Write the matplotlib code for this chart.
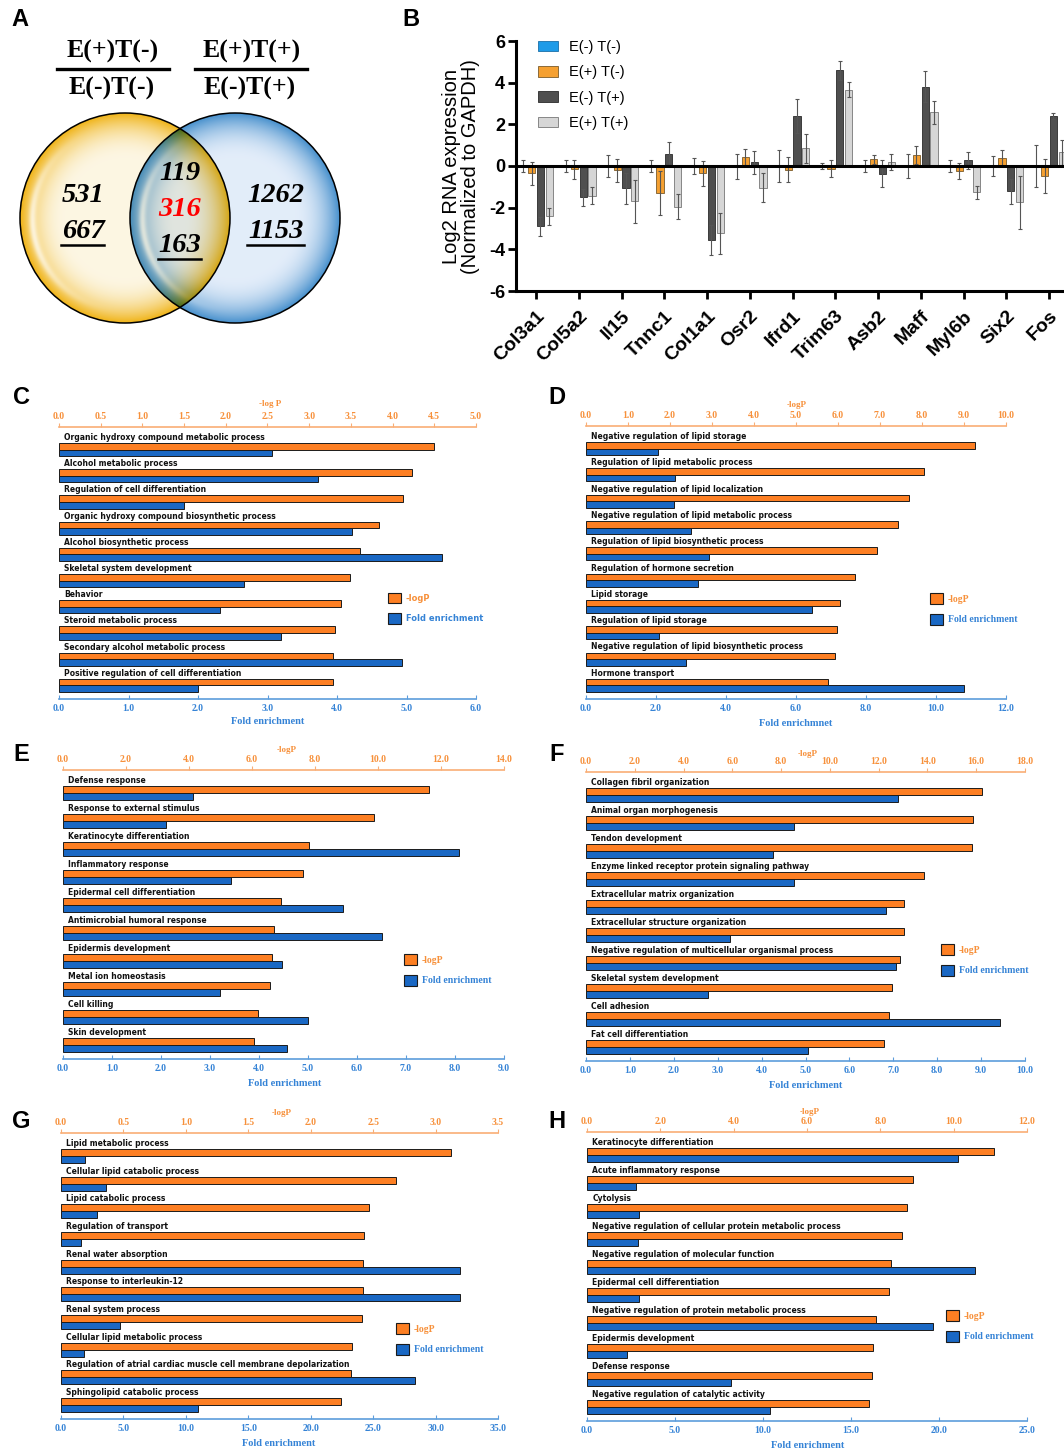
import numpy as np
import matplotlib
matplotlib.use('Agg')
import matplotlib.pyplot as plt
from matplotlib.patches import Circle, Patch
from matplotlib.transforms import blended_transform_factory

# ------------------------------------------------------------------ data
venn_left_header = ('E(+)T(-)', 'E(-)T(-)')
venn_right_header = ('E(+)T(+)', 'E(-)T(+)')
venn_left_up, venn_left_down = '531', '667'
venn_mid_up, venn_mid_common, venn_mid_down = '119', '316', '163'
venn_right_up, venn_right_down = '1262', '1153'

genes = ['Col3a1', 'Col5a2', 'Il15', 'Tnnc1', 'Col1a1', 'Osr2', 'Ifrd1',
         'Trim63', 'Asb2', 'Maff', 'Myl6b', 'Six2', 'Fos']
group_names = ['E(-) T(-)', 'E(+) T(-)', 'E(-) T(+)', 'E(+) T(+)']
e_neg_t_neg = [0, 0, 0, 0, 0, 0, 0, 0, 0, 0, 0, 0, 0]
e_neg_t_neg_err = [0.3, 0.3, 0.55, 0.3, 0.37, 0.6, 0.75, 0.15, 0.28, 0.58, 0.27, 0.47, 1.0]
e_pos_t_neg = [-0.35, -0.15, -0.2, -1.28, -0.35, 0.42, -0.18, -0.13, 0.32, 0.53, -0.22, 0.37, -0.48]
e_pos_t_neg_err = [0.55, 0.45, 0.55, 1.05, 0.6, 0.38, 0.6, 0.4, 0.2, 0.45, 0.38, 0.38, 0.83]
e_neg_t_pos = [-2.9, -1.5, -1.07, 0.6, -3.55, 0.18, 2.4, 4.6, -0.38, 3.8, 0.28, -1.22, 2.4]
e_neg_t_pos_err = [0.45, 0.4, 0.75, 0.55, 0.7, 0.55, 0.8, 0.45, 0.65, 0.75, 0.4, 0.62, 0.15]
e_pos_t_pos = [-2.42, -1.42, -1.7, -1.95, -3.22, -1.05, 0.85, 3.67, 0.19, 2.57, -1.27, -1.75, 0.65]
e_pos_t_pos_err = [0.4, 0.4, 1.05, 0.6, 0.98, 0.7, 0.7, 0.37, 0.37, 0.55, 0.33, 1.27, 0.62]

c_terms = ['Organic hydroxy compound metabolic process', 'Alcohol metabolic process',
           'Regulation of cell differentiation', 'Organic hydroxy compound biosynthetic process',
           'Alcohol biosynthetic process', 'Skeletal system development', 'Behavior',
           'Steroid metabolic process', 'Secondary alcohol metabolic process',
           'Positive regulation of cell differentiation']
c_logp = [4.50, 4.23, 4.13, 3.84, 3.61, 3.49, 3.38, 3.31, 3.29, 3.29]
c_fold = [3.07, 3.72, 1.80, 4.22, 5.51, 2.66, 2.32, 3.20, 4.94, 2.00]

d_terms = ['Negative regulation of lipid storage', 'Regulation of lipid metabolic process',
           'Negative regulation of lipid localization', 'Negative regulation of lipid metabolic process',
           'Regulation of lipid biosynthetic process', 'Regulation of hormone secretion',
           'Lipid storage', 'Regulation of lipid storage',
           'Negative regulation of lipid biosynthetic process', 'Hormone transport']
d_logp = [9.26, 8.04, 7.69, 7.43, 6.93, 6.41, 6.04, 5.98, 5.93, 5.76]
d_fold = [2.05, 2.55, 2.52, 3.00, 3.51, 3.19, 6.45, 2.09, 2.85, 10.80]

e_terms = ['Defense response', 'Response to external stimulus', 'Keratinocyte differentiation',
           'Inflammatory response', 'Epidermal cell differentiation',
           'Antimicrobial humoral response', 'Epidermis development', 'Metal ion homeostasis',
           'Cell killing', 'Skin development']
e_logp = [11.62, 9.88, 7.81, 7.63, 6.93, 6.69, 6.63, 6.57, 6.19, 6.07]
e_fold = [2.65, 2.10, 8.09, 3.42, 5.72, 6.51, 4.46, 3.20, 4.99, 4.58]

f_terms = ['Collagen fibril organization', 'Animal organ morphogenesis', 'Tendon development',
           'Enzyme linked receptor protein signaling pathway', 'Extracellular matrix organization',
           'Extracellular structure organization',
           'Negative regulation of multicellular organismal process',
           'Skeletal system development', 'Cell adhesion', 'Fat cell differentiation']
f_logp = [16.25, 15.88, 15.81, 13.85, 13.05, 13.05, 12.86, 12.56, 12.42, 12.22]
f_fold = [7.11, 4.73, 4.26, 4.74, 6.83, 3.29, 7.06, 2.77, 9.44, 5.06]

g_terms = ['Lipid metabolic process', 'Cellular lipid catabolic process', 'Lipid catabolic process',
           'Regulation of transport', 'Renal water absorption', 'Response to interleukin-12',
           'Renal system process', 'Cellular lipid metabolic process',
           'Regulation of atrial cardiac muscle cell membrane depolarization',
           'Sphingolipid catabolic process']
g_logp = [3.12, 2.68, 2.47, 2.43, 2.42, 2.42, 2.41, 2.33, 2.32, 2.24]
g_fold = [1.91, 3.57, 2.85, 1.61, 31.96, 31.96, 4.70, 1.85, 28.39, 11.01]

h_terms = ['Keratinocyte differentiation', 'Acute inflammatory response', 'Cytolysis',
           'Negative regulation of cellular protein metabolic process',
           'Negative regulation of molecular function', 'Epidermal cell differentiation',
           'Negative regulation of protein metabolic process', 'Epidermis development',
           'Defense response', 'Negative regulation of catalytic activity']
h_logp = [11.09, 8.90, 8.73, 8.58, 8.30, 8.23, 7.88, 7.79, 7.78, 7.70]
h_fold = [21.06, 2.76, 2.97, 2.90, 22.03, 2.97, 19.65, 2.25, 8.19, 10.42]

# ------------------------------------------------------------------ figure
W, H = 1064, 1451
fig = plt.figure(figsize=(W / 100, H / 100), dpi=100)


def fx(px):
    return px / W


def fy(py):
    return 1 - py / H


SANS = 'Liberation Sans'
SERIF = 'Liberation Serif'

# panel letters
for letter, (px, py) in zip('ABCDEFGH', [(20, 20), (411, 20), (21, 397), (557, 397),
                                          (21, 755), (557, 755), (21, 1121), (557, 1121)]):
    fig.text(fx(px), fy(py), letter, ha='center', va='center', fontsize=17,
             fontweight='bold', family=SANS)

# ------------------------------------------------------------------ panel A (Venn)
axa = fig.add_axes([0, fy(340), fx(420), 340 / H])
axa.set_xlim(0, 420)
axa.set_ylim(340, 0)
axa.axis('off')

xs = np.arange(420) + 0.5
ys = np.arange(340) + 0.5
X, Y = np.meshgrid(xs, ys)


def venn_layer(cx, cy, R, c_center, c_rim):
    r = np.hypot(X - cx, Y - cy) / R
    ang = np.arctan2(Y - cy, X - cx)
    t = np.clip((r - 0.55) / 0.45, 0, 1) ** 2.2
    col = (np.array(c_center)[None, None, :] * (1 - t)[..., None]
           + np.array(c_rim)[None, None, :] * t[..., None])
    # glassy highlight on the left inner side
    hl = np.exp(-((r - 0.88) / 0.035) ** 2) * np.clip(np.cos(ang - np.pi * 0.95), 0, 1) ** 3
    col = col * (1 - 0.7 * hl[..., None]) + 0.7 * hl[..., None]
    col[r > 1] = 1.0
    return col


L_C = (125, 218, 105)
R_C = (235, 218, 105)
img = venn_layer(*L_C, (0.99, 0.965, 0.89), (0.94, 0.70, 0.08)) * \
    venn_layer(*R_C, (0.89, 0.93, 0.98), (0.27, 0.56, 0.80))
axa.imshow(np.clip(img, 0, 1), extent=(0, 420, 340, 0), interpolation='bilinear', aspect='auto')
for cx, cy, R in (L_C, R_C):
    axa.add_patch(Circle((cx, cy), R, fill=False, edgecolor='black', lw=1.1))

hdr = dict(ha='center', va='center', fontsize=18.5, fontweight='bold', family=SERIF)
axa.text(113, 51, venn_left_header[0], **hdr)
axa.text(112, 88, venn_left_header[1], **hdr)
axa.plot([57, 169], [68.5, 68.5], color='black', lw=2.4)
axa.text(252, 51, venn_right_header[0], **hdr)
axa.text(250, 88, venn_right_header[1], **hdr)
axa.plot([195, 307], [68.5, 68.5], color='black', lw=2.4)

num = dict(ha='center', va='center', fontsize=20.5, fontweight='bold', fontstyle='italic', family=SERIF)
axa.text(83, 196, venn_left_up, **num)
axa.text(83, 232, venn_left_down, **num)
axa.plot([61, 104], [245, 245], color='black', lw=1.8)
axa.text(180, 174, venn_mid_up, **num)
axa.text(180, 210, venn_mid_common, color='#ff0000', **num)
axa.text(180, 246, venn_mid_down, **num)
axa.plot([158, 201], [259, 259], color='black', lw=1.8)
axa.text(276, 196, venn_right_up, **num)
axa.text(276, 232, venn_right_down, **num)
axa.plot([247, 304], [245, 245], color='black', lw=1.8)

# ------------------------------------------------------------------ panel B
B_LEFT, B_TOP, B_BOT = 516, 41, 291
xlim_b = (-0.47, 12.55)
unit_px = 42.75
axb = fig.add_axes([fx(B_LEFT), fy(B_BOT), (xlim_b[1] - xlim_b[0]) * unit_px / W, (B_BOT - B_TOP) / H])
xb = np.arange(len(genes))
series = [e_neg_t_neg, e_pos_t_neg, e_neg_t_pos, e_pos_t_pos]
errors = [e_neg_t_neg_err, e_pos_t_neg_err, e_neg_t_pos_err, e_pos_t_pos_err]
fills = ['#1e9be8', '#f5a031', '#4f4f4f', '#d6d6d6']
edges = ['#1a6fa8', '#7a5a2a', '#2a2a2a', '#777777']
step = 0.206
for k, (vals, errs, fc, ec, name) in enumerate(zip(series, errors, fills, edges, group_names)):
    axb.bar(xb + (k - 1.5) * step, vals, width=0.17, color=fc, edgecolor=ec, linewidth=0.6,
            yerr=errs, error_kw=dict(ecolor='#555555', elinewidth=0.8, capsize=1.6, capthick=0.8),
            label=name)
axb.axhline(0, color='black', lw=2.2, zorder=6)
axb.set_xlim(*xlim_b)
axb.set_ylim(-6, 6)
axb.set_yticks(np.arange(-6, 7, 2))
axb.set_yticklabels([str(v) for v in range(-6, 7, 2)], fontsize=13, fontweight='bold', family=SANS)
axb.set_xticks(xb)
axb.set_xticklabels(genes, rotation=45, ha='right', rotation_mode='anchor',
                    fontsize=14, fontweight='bold', family=SANS)
for s in ('top', 'right'):
    axb.spines[s].set_visible(False)
for s in ('left', 'bottom'):
    axb.spines[s].set_linewidth(2.2)
axb.tick_params(axis='both', length=6, width=2, pad=2)
axb.tick_params(axis='x', pad=6)
fig.text(fx(461), fy(167), 'Log2 RNA expression\n(Normalized to GAPDH)', rotation=90,
         ha='center', va='center', fontsize=14.5, family=SANS, linespacing=1.0)
legb = axb.legend(loc='upper left', bbox_to_anchor=(fx(538), fy(40)), bbox_transform=fig.transFigure,
                  frameon=False, borderpad=0, borderaxespad=0, handlelength=1.35, handleheight=0.75,
                  handletextpad=0.8, labelspacing=0.78, prop=dict(family=SANS, size=10.5))

# ------------------------------------------------------------------ GO panels
ORANGE = '#fd7f23'
BLUE = '#1a68c4'
ORANGE_TXT = '#f7903a'
BLUE_TXT = '#3583d6'
ORANGE_LINE = '#f9ae76'
BLUE_LINE = '#5c9ddc'


def go_panel(box, terms, logp, fold, lp_max, lp_step, fe_max, fe_step,
             top_title, top_xy, bot_title, bot_xy, leg_xy, leg_family=SERIF,
             leg_weight='bold', leg_size=7):
    left, right, top, bottom = box
    ax = fig.add_axes([fx(left), fy(bottom), (right - left) / W, (bottom - top) / H])
    n = len(terms)
    y = np.arange(n)
    unit = (bottom - 7 - (top + 16)) / (n - 0.5)
    ylo = -0.25 - 16 / unit
    yhi = (n - 1) + 0.25 + 7 / unit
    ax.barh(y + 0.125, fold, height=0.25, color=BLUE, edgecolor='#1b1b1b', linewidth=0.7)
    ax2 = ax.twiny()
    ax2.barh(y - 0.125, logp, height=0.25, color=ORANGE, edgecolor='#1b1b1b', linewidth=0.7)
    ax.set_ylim(yhi, ylo)
    ax.set_xlim(0, fe_max)
    ax2.set_xlim(0, lp_max)
    ax.set_yticks([])

    bt = np.arange(0, fe_max + 1e-9, fe_step)
    ax.set_xticks(bt)
    ax.set_xticklabels(['%.1f' % v for v in bt], family=SERIF, fontweight='bold', fontsize=7, color=BLUE_TXT)
    ax.tick_params(axis='x', direction='in', length=3, width=0.8, color=BLUE_LINE, pad=3.5)
    tt = np.arange(0, lp_max + 1e-9, lp_step)
    ax2.set_xticks(tt)
    ax2.set_xticklabels(['%.1f' % v for v in tt], family=SERIF, fontweight='bold', fontsize=7, color=ORANGE_TXT)
    ax2.tick_params(axis='x', direction='out', length=3, width=0.8, color=ORANGE_LINE, pad=1.5)

    for s in ('left', 'right', 'top'):
        ax.spines[s].set_visible(False)
    for s in ('left', 'right', 'bottom'):
        ax2.spines[s].set_visible(False)
    ax.spines['bottom'].set_color(BLUE_LINE)
    ax.spines['bottom'].set_linewidth(1.2)
    ax2.spines['top'].set_color(ORANGE_LINE)
    ax2.spines['top'].set_linewidth(1.2)

    trans = blended_transform_factory(ax.transAxes, ax.transData)
    for i, term in enumerate(terms):
        ax.text(0.012, i - 0.29, term, transform=trans, ha='left', va='bottom',
                fontsize=5.5, fontweight='bold', family='DejaVu Sans', color='#111111')

    fig.text(fx(top_xy[0]), fy(top_xy[1]), top_title, ha='center', va='center', fontsize=6.5,
             fontweight='bold', family=SERIF, color=ORANGE_TXT)
    fig.text(fx(bot_xy[0]), fy(bot_xy[1]), bot_title, ha='center', va='center', fontsize=7.5,
             fontweight='bold', family=SERIF, color=BLUE_TXT)

    handles = [Patch(facecolor=ORANGE, edgecolor='#1b1b1b', linewidth=0.8),
               Patch(facecolor=BLUE, edgecolor='#1b1b1b', linewidth=0.8)]
    fs_px = leg_size * 100 / 72
    leg = fig.legend(handles, ['-logP', 'Fold enrichment'], loc='upper left',
                     bbox_to_anchor=(fx(leg_xy[0]), fy(leg_xy[1])), frameon=False, borderpad=0,
                     borderaxespad=0, handlelength=13 / fs_px, handleheight=13 / fs_px,
                     handletextpad=5 / fs_px, labelspacing=10 / fs_px,
                     prop=dict(family=leg_family, weight=leg_weight, size=leg_size))
    for t, c in zip(leg.get_texts(), [ORANGE_TXT, BLUE_TXT]):
        t.set_color(c)


go_panel((59, 476, 427, 699), c_terms, c_logp, c_fold, 5.0, 0.5, 6.0, 1.0,
         '-log P', (270, 404), 'Fold enrichment', (268, 721), (388, 593),
         leg_family='DejaVu Sans', leg_weight='bold', leg_size=6.0)
go_panel((586, 1006, 426, 699), d_terms, d_logp, d_fold, 10.0, 1.0, 12.0, 2.0,
         '-logP', (797, 405), 'Fold enrichmnet', (796, 723), (930, 593))
go_panel((63, 504, 770, 1059), e_terms, e_logp, e_fold, 14.0, 2.0, 9.0, 1.0,
         '-logP', (287, 750), 'Fold enrichment', (285, 1084), (404, 954))
go_panel((586, 1025, 772, 1061), f_terms, f_logp, f_fold, 18.0, 2.0, 10.0, 1.0,
         '-logP', (808, 754), 'Fold enrichment', (806, 1086), (941, 944))
go_panel((61, 498, 1133, 1419), g_terms, g_logp, g_fold, 3.5, 0.5, 35.0, 5.0,
         '-logP', (282, 1113), 'Fold enrichment', (279, 1444), (396, 1323))
go_panel((587, 1027, 1132, 1421), h_terms, h_logp, h_fold, 12.0, 2.0, 25.0, 5.0,
         '-logP', (810, 1112), 'Fold enrichment', (808, 1445), (946, 1310))

fig.savefig('out.png', dpi=100)
